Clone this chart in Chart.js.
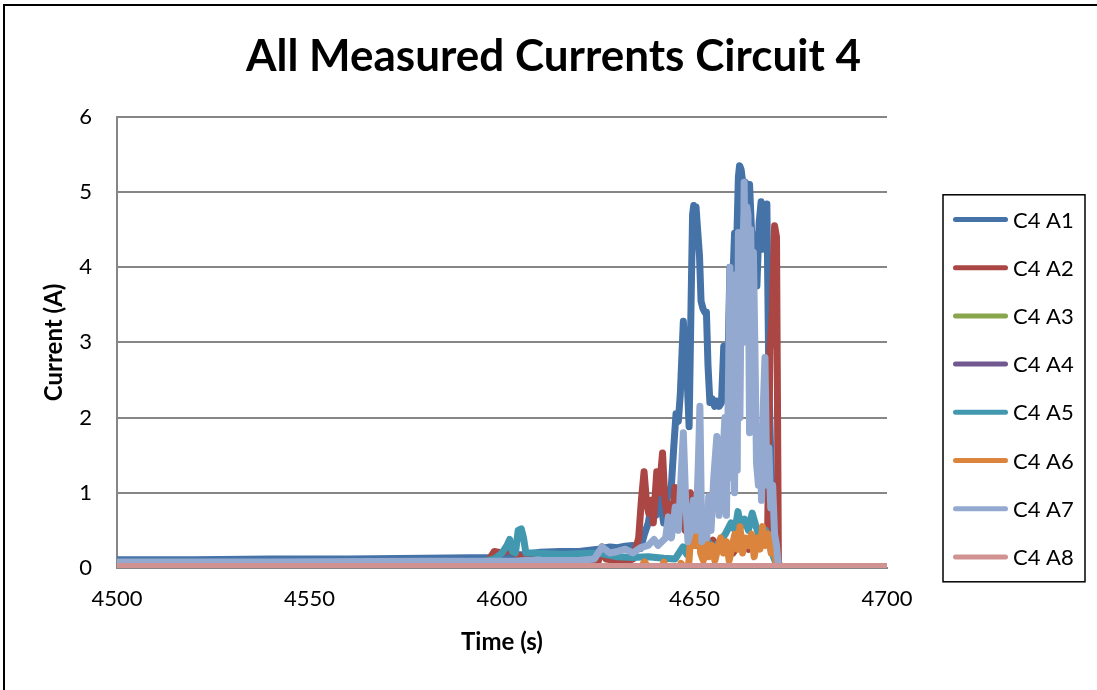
<!DOCTYPE html>
<html>
<head>
<meta charset="utf-8">
<title>All Measured Currents Circuit 4</title>
<script src="https://cdn.jsdelivr.net/npm/chart.js@4.4.0/dist/chart.umd.min.js"></script>
<style>
  html, body { margin: 0; padding: 0; background: #fff; }
  #wrap { width: 1097px; height: 690px; }
</style>
</head>
<body>
<div id="wrap"><canvas id="grafico" width="1097" height="690"></canvas></div>
<script>
// Datos (tiempo en s, corriente en A)
const seriesNames = ['C4 A1', 'C4 A2', 'C4 A3', 'C4 A4', 'C4 A5', 'C4 A6', 'C4 A7', 'C4 A8'];
const xTicks = [4500, 4550, 4600, 4650, 4700];
const yTicks = [0, 1, 2, 3, 4, 5, 6];

const timeA1 = [4500, 4520, 4540, 4560, 4580, 4598, 4600, 4603, 4606, 4610, 4615, 4620, 4625, 4628, 4630, 4632, 4634, 4636,
  4637, 4638, 4639, 4640, 4641, 4642, 4643, 4644, 4644.6, 4645.2, 4645.8, 4646.3, 4647.1, 4647.6, 4648.1, 4648.6,
  4649.1, 4649.5, 4649.8, 4650.1, 4650.4, 4650.8, 4651.3, 4651.7, 4652.2, 4652.7, 4653.1, 4653.5, 4654.0, 4654.6,
  4655.2, 4655.8, 4656.4, 4657.0, 4657.6, 4658.2, 4658.8, 4659.2, 4659.8, 4660.4, 4661.0, 4661.4, 4661.7, 4662.1,
  4662.6, 4663.2, 4663.8, 4664.3, 4664.8, 4665.2, 4665.7, 4666.2, 4666.8, 4667.3, 4667.8, 4668.3, 4668.8, 4669.3,
  4669.8, 4670.4, 4671.0, 4671.6, 4673, 4700];
const currentA1 = [0.11, 0.11, 0.12, 0.12, 0.13, 0.14, 0.15, 0.17, 0.18, 0.21, 0.22, 0.22, 0.25, 0.28, 0.27, 0.29, 0.3, 0.26,
  0.45, 0.6, 0.9, 0.7, 0.95, 0.6, 0.95, 1.1, 1.6, 2.05, 1.95, 2.3, 3.28, 2.8, 2.5, 1.88,
  3.5, 4.7, 4.82, 4.65, 4.8, 4.5, 4.15, 3.55, 3.45, 3.4, 3.4, 2.7, 2.2, 2.25,
  2.15, 2.22, 2.15, 2.2, 2.95, 2.4, 3.0, 4.0, 3.6, 4.45, 4.4, 5.2, 5.35, 5.3,
  5.1, 5.13, 4.9, 5.1, 4.5, 4.33, 4.0, 3.75, 4.6, 4.87, 4.24, 4.7, 4.84, 2.55,
  1.5, 0.5, 0.3, 0.03, 0.02, 0.02];

const timeA2 = [4500, 4550, 4596, 4598, 4600, 4602, 4604, 4606, 4610, 4615, 4620, 4625, 4626, 4627, 4630, 4632, 4634,
  4635.5, 4636.2, 4636.9, 4637.5, 4638.1, 4638.8, 4639.3, 4640.2, 4640.8, 4641.7, 4642.3, 4642.9, 4643.6, 4644.3,
  4644.9, 4645.6, 4646.3, 4647, 4647.6, 4648.4, 4648.9, 4649.5, 4650.3, 4651, 4652, 4652.5, 4653, 4654, 4654.8,
  4656, 4658, 4660, 4662, 4664, 4665.2, 4666.5, 4668, 4669, 4669.6, 4670.2, 4670.8, 4671.3, 4671.8, 4673, 4700];
const currentA2 = [0.05, 0.05, 0.06, 0.22, 0.2, 0.24, 0.18, 0.12, 0.09, 0.08, 0.09, 0.09, 0.28, 0.12, 0.1, 0.08, 0.12,
  0.4, 0.9, 1.28, 0.9, 0.73, 0.9, 0.6, 1.28, 1.0, 1.53, 0.9, 0.7, 0.85, 0.6,
  1.07, 0.75, 0.55, 0.8, 0.5, 0.7, 1.0, 0.55, 0.3, 0.4, 0.25, 0.7, 0.4, 0.2, 0.37,
  0.25, 0.3, 0.2, 0.35, 0.25, 0.41, 0.3, 0.4, 0.5, 2.9, 3.4, 4.55, 4.4, 0.03, 0.02, 0.02];

const timeA3 = [4500, 4600, 4700];
const currentA3 = [0.0, 0.0, 0.0];

const timeA4 = [4500, 4600, 4700];
const currentA4 = [0.01, 0.01, 0.01];

const timeA5 = [4500, 4550, 4595, 4598, 4600, 4601.3, 4602, 4602.7, 4603.5, 4604.2, 4605, 4605.6, 4606.2, 4608, 4612,
  4616, 4620, 4625, 4630, 4634, 4638, 4642, 4645, 4647, 4648, 4649.3, 4650, 4650.8, 4652, 4653.5, 4655, 4656.5,
  4658, 4659.5, 4660.5, 4661.3, 4662, 4663, 4664, 4665, 4666, 4667, 4668.5, 4669.5, 4670.5, 4671.5, 4700];
const currentA5 = [0.06, 0.07, 0.08, 0.12, 0.2, 0.3, 0.38, 0.22, 0.2, 0.5, 0.52, 0.4, 0.2, 0.2, 0.19,
  0.18, 0.19, 0.2, 0.15, 0.14, 0.15, 0.13, 0.12, 0.28, 0.18, 0.6, 0.7, 0.45, 0.3, 0.35, 0.25, 0.35,
  0.45, 0.6, 0.5, 0.75, 0.55, 0.65, 0.5, 0.73, 0.55, 0.4, 0.5, 0.3, 0.15, 0.02, 0.02];

const timeA6 = [4500, 4600, 4636, 4637, 4638, 4641.5, 4642, 4642.5, 4646, 4646.5, 4647, 4648.5, 4649.3, 4650, 4651,
  4651.6, 4652.3, 4653, 4653.7, 4654.5, 4655.3, 4656, 4656.8, 4657.5, 4658.3, 4659, 4659.8, 4660.5, 4661.2,
  4661.8, 4662.5, 4663.2, 4664, 4664.8, 4665.5, 4666.3, 4667, 4667.7, 4668.4, 4669.2, 4669.9, 4670.6, 4671.2,
  4672, 4700];
const currentA6 = [0.0, 0.0, 0.0, 0.08, 0.0, 0.0, 0.08, 0.0, 0.0, 0.06, 0.0, 0.05, 0.62, 0.3, 0.55,
  0.2, 0.1, 0.35, 0.15, 0.3, 0.1, 0.25, 0.4, 0.2, 0.35, 0.1, 0.3, 0.45, 0.25,
  0.55, 0.2, 0.4, 0.3, 0.45, 0.15, 0.4, 0.25, 0.55, 0.3, 0.45, 0.2, 0.35, 0.05,
  0.0, 0.0];

const timeA7 = [4500, 4540, 4580, 4598, 4600, 4603, 4606, 4610, 4615, 4620, 4624, 4626, 4628, 4630, 4632, 4634, 4636,
  4638, 4639.5, 4640.5, 4641.5, 4642.5, 4643.2, 4644, 4645, 4645.8, 4646.5, 4647.1, 4647.7, 4648.3, 4649, 4649.7,
  4650.4, 4651, 4651.4, 4651.9, 4652.5, 4653.2, 4653.7, 4654.3, 4655, 4655.8, 4656.4, 4657, 4657.5, 4657.9,
  4658.3, 4658.8, 4659.2, 4659.6, 4660, 4660.4, 4660.8, 4661.1, 4661.4, 4661.8, 4662.2, 4662.6, 4662.9, 4663.3,
  4663.6, 4663.9, 4664.3, 4664.6, 4665, 4665.3, 4665.7, 4666.1, 4666.6, 4667, 4667.4, 4667.9, 4668.3, 4668.8,
  4669.3, 4669.8, 4670.3, 4670.8, 4671.3, 4671.8, 4673, 4700];
const currentA7 = [0.08, 0.08, 0.09, 0.09, 0.09, 0.09, 0.1, 0.1, 0.1, 0.1, 0.12, 0.28, 0.2, 0.22, 0.25, 0.2, 0.27,
  0.3, 0.38, 0.3, 0.35, 0.4, 0.68, 0.4, 0.81, 0.5, 1.2, 1.8, 0.9, 0.35, 0.5, 0.9,
  0.5, 1.4, 2.15, 0.35, 0.6, 0.4, 0.95, 0.5, 1.2, 1.75, 0.7, 1.0, 1.6, 2.0,
  0.7, 2.4, 4.0, 1.2, 3.4, 1.0, 3.9, 1.3, 4.46, 2.0, 4.2, 3.0, 5.13, 3.5,
  4.8, 4.69, 1.8, 4.5, 3.0, 4.2, 2.9, 1.4, 1.1, 1.8, 0.9, 2.2, 2.8, 1.1,
  1.6, 0.8, 1.1, 0.45, 0.3, 0.02, 0.02, 0.02];

const timeA8 = [4500, 4600, 4650, 4700];
const currentA8 = [0.02, 0.02, 0.02, 0.02];

const seriesTimes = [timeA1, timeA2, timeA3, timeA4, timeA5, timeA6, timeA7, timeA8];
const seriesCurrents = [currentA1, currentA2, currentA3, currentA4, currentA5, currentA6, currentA7, currentA8];

// Colores por defecto de Excel 2007
const seriesColors = ['#4572A7', '#AA4643', '#89A54E', '#71588F', '#4198AF', '#DB843D', '#93A9CF', '#D19392'];

Chart.defaults.font.family = 'Lato';
Chart.defaults.color = '#000';

// Leyenda con borde, dibujada a mano a la derecha del area de trazado
const leyendaPlugin = {
  id: 'leyendaBorde',
  afterDraw(chart) {
    const ctx = chart.ctx;
    const area = chart.chartArea;
    const left = area.right + 56;
    const top = area.top + 78;
    ctx.save();
    ctx.strokeStyle = '#000';
    ctx.lineWidth = 1.5;
    ctx.strokeRect(left, top, 142, 387);
    ctx.font = '22px Lato';
    ctx.textBaseline = 'middle';
    ctx.textAlign = 'left';
    chart.data.datasets.forEach((ds, i) => {
      const y = top + 24.7 + i * 48.2;
      ctx.strokeStyle = ds.borderColor;
      ctx.lineWidth = 5;
      ctx.lineCap = 'round';
      ctx.beginPath();
      ctx.moveTo(left + 12.5, y);
      ctx.lineTo(left + 62.5, y);
      ctx.stroke();
      ctx.fillStyle = '#000';
      ctx.fillText(ds.label, left + 70, y + 1);
    });
    ctx.restore();
  }
};

// Marco exterior (solo arriba e izquierda se ven en la imagen)
const marcoPlugin = {
  id: 'marco',
  beforeDraw(chart) {
    const ctx = chart.ctx;
    ctx.save();
    ctx.fillStyle = '#fff';
    ctx.fillRect(0, 0, chart.width, chart.height);
    ctx.strokeStyle = '#000';
    ctx.lineWidth = 2;
    ctx.beginPath();
    ctx.moveTo(4, chart.height);
    ctx.lineTo(4, 5);
    ctx.lineTo(chart.width, 5);
    ctx.stroke();
    ctx.restore();
  }
};

const datasets = seriesNames.map((name, i) => ({
  label: name,
  data: seriesTimes[i].map((t, k) => ({ x: t, y: seriesCurrents[i][k] })),
  borderColor: seriesColors[i],
  backgroundColor: seriesColors[i],
  borderWidth: 7,
  borderJoinStyle: 'round',
  borderCapStyle: 'round',
  pointRadius: 0,
  tension: 0,
  fill: false,
  order: seriesNames.length - 1 - i
}));

new Chart(document.getElementById('grafico'), {
  type: 'line',
  data: { datasets },
  options: {
    responsive: false,
    animation: false,
    layout: { padding: { left: 10, right: 0, top: 0, bottom: 30 } },
    plugins: {
      legend: { display: false },
      tooltip: { enabled: false },
      title: {
        display: true,
        text: 'All Measured Currents Circuit 4',
        font: { size: 44, weight: 'bold' },
        color: '#000',
        padding: { top: 30, bottom: 34 }
      }
    },
    scales: {
      x: {
        type: 'linear',
        min: xTicks[0],
        max: xTicks[xTicks.length - 1],
        afterFit: (scale) => { scale.height = 92; },
        ticks: {
          stepSize: xTicks[1] - xTicks[0],
          font: { size: 22 },
          padding: 18,
          maxRotation: 0,
          callback: (v) => String(v)
        },
        grid: { display: false, drawTicks: false },
        border: { display: true, color: '#868686', width: 2 },
        title: { display: true, text: 'Time (s)', font: { size: 24, weight: 'bold' }, padding: { top: 9, bottom: 3 } }
      },
      y: {
        min: yTicks[0],
        max: yTicks[yTicks.length - 1],
        afterFit: (scale) => { scale.width = 107; },
        ticks: { stepSize: yTicks[1] - yTicks[0], font: { size: 22 }, padding: 25 },
        grid: { color: '#868686', lineWidth: 2, drawTicks: false },
        border: { display: true, color: '#868686', width: 2 },
        title: { display: true, text: 'Current (A)', font: { size: 24, weight: 'bold' }, padding: { top: 30, bottom: 10 } }
      },
      espacio: {
        // eje vacio solo para reservar el hueco de la leyenda
        position: 'right',
        display: true,
        grid: { display: false },
        ticks: { display: false },
        border: { display: false },
        afterFit: (scale) => { scale.width = 210; }
      }
    }
  },
  plugins: [marcoPlugin, leyendaPlugin]
});
</script>
</body>
</html>
